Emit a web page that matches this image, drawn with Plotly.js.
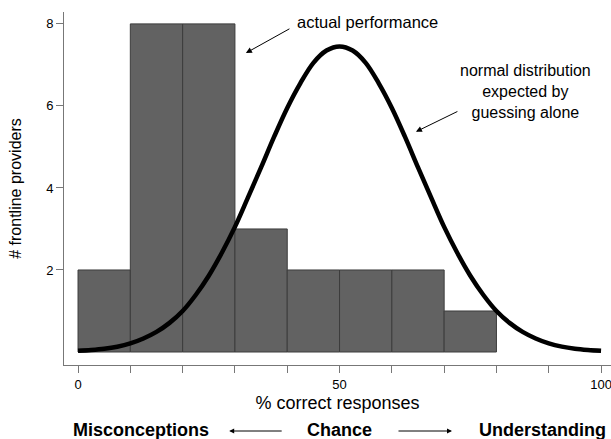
<!DOCTYPE html>
<html>
<head>
<meta charset="utf-8">
<script src="https://cdn.plot.ly/plotly-3.0.1.min.js"></script>
<style>html,body{margin:0;padding:0;background:#fff;}#chart{width:611px;height:439px;}</style>
</head>
<body>
<div id="chart"></div>
<script>
// Histogram bins (% correct responses) and counts of frontline providers
var binStarts = [0, 10, 20, 30, 40, 50, 60, 70];
var binWidth = 10;
var counts = [2, 8, 8, 3, 2, 2, 2, 1];

// Normal curve expected by guessing alone
var curveX = [0, 2.5, 5, 7.5, 10, 12.5, 15, 17.5, 20, 22.5, 25, 27.5, 30, 32.5, 35, 37.5, 40, 42.5, 45, 47.5,
              50, 52.5, 55, 57.5, 60, 62.5, 65, 67.5, 70, 72.5, 75, 77.5, 80, 82.5, 85, 87.5, 90, 92.5, 95, 97.5, 100];
var curveY = [0.03, 0.05, 0.08, 0.13, 0.21, 0.33, 0.49, 0.71, 1.0, 1.39, 1.86, 2.42, 3.05, 3.77, 4.5, 5.25, 5.95, 6.55, 7.05, 7.35,
              7.45, 7.35, 7.05, 6.55, 5.95, 5.25, 4.5, 3.77, 3.05, 2.42, 1.86, 1.39, 1.0, 0.71, 0.49, 0.33, 0.21, 0.13, 0.08, 0.05, 0.03];

// Axis ticks
var xTickVals = [0, 10, 20, 30, 40, 50, 60, 70, 80, 90, 100];
var xTickText = ['0', '', '', '', '', '50', '', '', '', '', '100'];
var yTickVals = [2, 4, 6, 8];

var font = 'Liberation Sans, Arial, sans-serif';

var traces = [
  {
    type: 'bar',
    x: binStarts,
    y: counts,
    width: binWidth,
    offset: 0,
    marker: {color: '#626262', line: {color: '#3c3c3c', width: 1}},
    hoverinfo: 'none'
  },
  {
    type: 'scatter',
    mode: 'lines',
    x: curveX,
    y: curveY,
    line: {color: '#000', width: 4.5, shape: 'spline', smoothing: 1},
    hoverinfo: 'none'
  }
];

var layout = {
  width: 611,
  height: 439,
  margin: {l: 64, r: 0, t: 12, b: 74},
  paper_bgcolor: '#ffffff',
  plot_bgcolor: '#ffffff',
  showlegend: false,
  font: {family: font, color: '#000', size: 13},
  xaxis: {
    range: [-2.68, 101.9],
    tickvals: xTickVals,
    ticktext: xTickText,
    ticks: 'outside',
    ticklen: 7,
    tickcolor: '#777',
    tickwidth: 1,
    showline: true,
    linecolor: '#777',
    linewidth: 1,
    showgrid: false,
    zeroline: false,
    ticklabeloverflow: 'allow',
    tickfont: {family: font, size: 13, color: '#000'},
    title: {text: '% correct responses', font: {family: font, size: 18, color: '#000'}, standoff: 5}
  },
  yaxis: {
    range: [-0.317, 8.29],
    tickvals: yTickVals,
    ticks: 'outside',
    ticklen: 7,
    tickcolor: '#777',
    tickwidth: 1,
    showline: true,
    linecolor: '#777',
    linewidth: 1,
    showgrid: false,
    zeroline: false,
    tickfont: {family: font, size: 13, color: '#000'},
    title: {text: '# frontline providers', font: {family: font, size: 16, color: '#000'}, standoff: 20}
  },
  annotations: [
    {xref: 'x', yref: 'y', x: 55.4, y: 8.05, text: 'actual performance', showarrow: false,
     font: {family: font, size: 16.5, color: '#000'}, xanchor: 'center', yanchor: 'middle'},
    {xref: 'x', yref: 'y', x: 32.1, y: 7.29, ax: 45, ay: -25, text: '', showarrow: true,
     arrowhead: 2, arrowsize: 1.2, arrowwidth: 1, arrowcolor: '#000'},
    {xref: 'x', yref: 'y', x: 85.6, y: 6.35, text: 'normal distribution<br>expected by<br>guessing alone', showarrow: false,
     font: {family: font, size: 16, color: '#000'}, xanchor: 'center', yanchor: 'middle', align: 'center'},
    {xref: 'x', yref: 'y', x: 64.6, y: 5.37, ax: 43, ay: -21, text: '', showarrow: true,
     arrowhead: 2, arrowsize: 1.2, arrowwidth: 1, arrowcolor: '#000'},
    {xref: 'x', yref: 'paper', x: 12.0, y: -0.184, text: '<b>Misconceptions</b>', showarrow: false,
     font: {family: font, size: 18, color: '#000'}, xanchor: 'center', yanchor: 'middle'},
    {xref: 'x', yref: 'paper', x: 49.9, y: -0.184, text: '<b>Chance</b>', showarrow: false,
     font: {family: font, size: 18, color: '#000'}, xanchor: 'center', yanchor: 'middle'},
    {xref: 'x', yref: 'paper', x: 88.8, y: -0.184, text: '<b>Understanding</b>', showarrow: false,
     font: {family: font, size: 18, color: '#000'}, xanchor: 'center', yanchor: 'middle'},
    {xref: 'x', yref: 'paper', x: 28.9, y: -0.187, ax: 54, ay: 0, text: '', showarrow: true,
     arrowhead: 2, arrowsize: 1, arrowwidth: 1, arrowcolor: '#000'},
    {xref: 'x', yref: 'paper', x: 71.5, y: -0.187, ax: -55, ay: 0, text: '', showarrow: true,
     arrowhead: 2, arrowsize: 1, arrowwidth: 1, arrowcolor: '#000'}
  ]
};

Plotly.newPlot('chart', traces, layout, {displayModeBar: false, staticPlot: true});
</script>
</body>
</html>
